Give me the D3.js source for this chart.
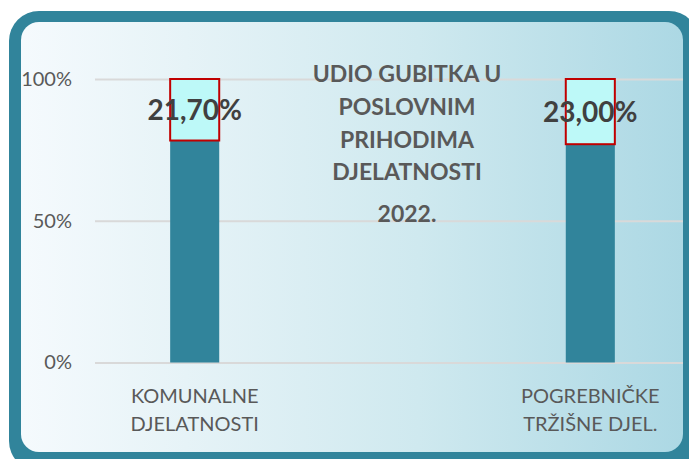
<!DOCTYPE html>
<html>
<head>
<meta charset="utf-8">
<script src="https://cdn.jsdelivr.net/npm/d3@7"></script>
<style>
  html, body { margin: 0; padding: 0; background: #ffffff; }
  svg { display: block; font-family: Lato, "Open Sans", sans-serif; }
</style>
</head>
<body>
<div id="chart"></div>
<script>
// categories and shares (percent of business revenue)
const categories = ["KOMUNALNE DJELATNOSTI", "POGREBNIČKE TRŽIŠNE DJEL."];
const lossShare = [21.70, 23.00];
const restShare = [78.30, 77.00];
const yTicks = [0, 50, 100];
const titleLines = ["UDIO GUBITKA U", "POSLOVNIM", "PRIHODIMA", "DJELATNOSTI", "2022."];

const width = 689, height = 459;
const frameColor = "#31849b";
const barColor = "#31849b";
const topColor = "#bdf9f8";
const topStroke = "#c00000";
const textColor = "#595959";

const svg = d3.select("#chart").append("svg")
  .attr("width", width)
  .attr("height", height);

// background gradient
const defs = svg.append("defs");
const grad = defs.append("linearGradient").attr("id", "bg").attr("x1", "0").attr("x2", "1").attr("y1", "0").attr("y2", "0");
grad.append("stop").attr("offset", "0%").attr("stop-color", "#f5fafd");
grad.append("stop").attr("offset", "25%").attr("stop-color", "#e6f3f7");
grad.append("stop").attr("offset", "60%").attr("stop-color", "#cfe9ef");
grad.append("stop").attr("offset", "100%").attr("stop-color", "#acd8e4");

defs.append("clipPath").attr("id", "inner")
  .append("rect").attr("x", 21).attr("y", 22).attr("width", 662).attr("height", 430).attr("rx", 18);

// frame
svg.append("rect")
  .attr("x", 9).attr("y", 11).attr("width", 690).attr("height", 460)
  .attr("rx", 30)
  .attr("fill", frameColor);
svg.append("rect")
  .attr("x", 21).attr("y", 22).attr("width", 662).attr("height", 430)
  .attr("rx", 18)
  .attr("fill", "url(#bg)");

const plot = svg.append("g").attr("clip-path", "url(#inner)");

const plotLeft = 95, plotRight = 690, plotTop = 79, plotBottom = 362.5;

const x = d3.scaleBand()
  .domain(categories)
  .range([plotLeft, plotRight])
  .paddingInner(0.876)
  .paddingOuter(0.19);

const y = d3.scaleLinear()
  .domain([0, 100])
  .range([plotBottom, plotTop]);

// gridlines
plot.append("g")
  .attr("transform", "translate(" + plotLeft + ",0)")
  .call(d3.axisLeft(y).tickValues(yTicks).tickSize(-(plotRight - plotLeft)).tickFormat(""))
  .call(g => g.select(".domain").remove())
  .call(g => g.selectAll(".tick line").attr("stroke", "#d9d9d9").attr("stroke-width", 2));

// y axis labels
svg.append("g")
  .attr("transform", "translate(" + plotLeft + ",0)")
  .call(d3.axisLeft(y).tickValues(yTicks).tickSize(0).tickPadding(23).tickFormat(d => d + "%"))
  .call(g => g.select(".domain").remove())
  .call(g => g.selectAll(".tick text")
    .attr("fill", textColor)
    .style("font-size", "20px")
    .style("font-family", "Lato, sans-serif"));

// x axis labels, two lines
const xAxis = svg.append("g")
  .attr("transform", "translate(0," + plotBottom + ")")
  .call(d3.axisBottom(x).tickSize(0).tickFormat(""))
  .call(g => g.select(".domain").remove());

xAxis.selectAll(".tick").each(function (d) {
  const i = d.indexOf(" ");
  const lines = [d.slice(0, i), d.slice(i + 1)];
  const t = d3.select(this).select("text")
    .attr("y", 0)
    .attr("dy", null)
    .attr("fill", textColor)
    .style("font-size", "20px")
    .style("font-family", "Lato, sans-serif");
  t.selectAll("tspan").data(lines).enter().append("tspan")
    .attr("x", 0)
    .attr("y", (l, k) => 40 + k * 28.5)
    .text(l => l);
});

// stacked bars
const bars = plot.append("g");
bars.selectAll("rect.rest")
  .data(categories)
  .enter().append("rect")
  .attr("class", "rest")
  .attr("x", d => x(d))
  .attr("width", x.bandwidth())
  .attr("y", (d, i) => y(restShare[i]))
  .attr("height", (d, i) => y(0) - y(restShare[i]))
  .attr("fill", barColor);

bars.selectAll("rect.loss")
  .data(categories)
  .enter().append("rect")
  .attr("class", "loss")
  .attr("x", d => x(d))
  .attr("width", x.bandwidth())
  .attr("y", (d, i) => y(restShare[i] + lossShare[i]))
  .attr("height", (d, i) => y(restShare[i]) - y(restShare[i] + lossShare[i]))
  .attr("fill", topColor)
  .attr("stroke", topStroke)
  .attr("stroke-width", 2);

// data labels
const hr = d3.formatLocale({decimal: ",", thousands: ".", grouping: [3], currency: ["", " €"]});
const fmt = hr.format(".2f");

svg.append("g").selectAll("text")
  .data(categories)
  .enter().append("text")
  .attr("x", d => x(d) + x.bandwidth() / 2)
  .attr("y", (d, i) => y(restShare[i] + lossShare[i] / 2))
  .attr("dy", "0.36em")
  .attr("text-anchor", "middle")
  .attr("fill", "#404040")
  .style("font-size", "28px")
  .style("font-weight", "bold")
  .text((d, i) => fmt(lossShare[i]) + "%");

// title in the middle
const titleY = [82, 115, 148, 180, 222];
svg.append("g").selectAll("text")
  .data(titleLines)
  .enter().append("text")
  .attr("x", 407)
  .attr("y", (d, i) => titleY[i])
  .attr("text-anchor", "middle")
  .attr("fill", textColor)
  .style("font-size", "23px")
  .style("font-weight", "bold")
  .text(d => d);
</script>
</body>
</html>
